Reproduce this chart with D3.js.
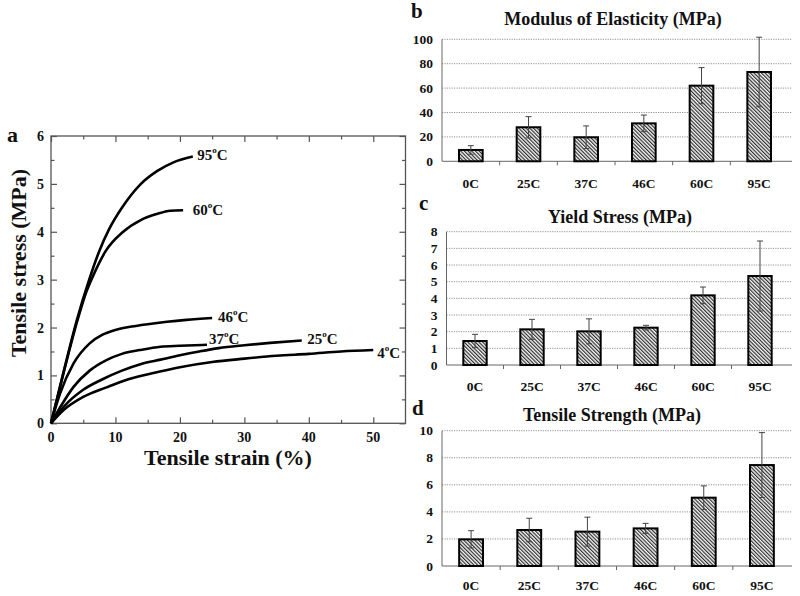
<!DOCTYPE html>
<html><head><meta charset="utf-8">
<script src="https://cdn.jsdelivr.net/npm/d3@7"></script>
<style>
body{margin:0;background:#fff;}
text{font-family:"Liberation Serif","Times New Roman",serif;font-weight:bold;fill:#111;}
</style></head>
<body><svg id="c" width="800" height="596"></svg>
<script>
// ---------- Panel a data: stress-strain curves [strain %, stress MPa] ----------
const temps = ["95", "60", "46", "37", "25", "4"];
const curve95 = [[0,0],[2,1.1],[4,2.15],[6,3.03],[7.5,3.6],[9,4.05],[11,4.5],[13.8,4.98],[16.5,5.27],[19,5.45],[22,5.57]];
const curve60 = [[0,0],[2,1.08],[4,2.1],[5.5,2.75],[6.6,3.1],[8.5,3.6],[11.2,4.0],[14,4.25],[16.4,4.37],[18.5,4.44],[20.5,4.45]];
const curve46 = [[0,0],[1.4,0.62],[3.5,1.25],[6,1.67],[8,1.85],[10,1.95],[12.5,2.02],[15,2.07],[18,2.12],[21,2.16],[25,2.2]];
const curve37 = [[0,0],[1.5,0.35],[3.5,0.76],[6,1.1],[8.6,1.32],[11,1.45],[13.8,1.53],[17,1.6],[20,1.62],[24.2,1.64]];
const curve25 = [[0,0],[2,0.35],[5,0.7],[8,0.92],[11,1.1],[14,1.24],[17,1.33],[20,1.42],[23,1.5],[26,1.57],[30,1.63],[34,1.68],[38.9,1.73]];
const curve4  = [[0,0],[2,0.28],[5,0.55],[8.6,0.75],[12,0.92],[16.9,1.08],[20,1.17],[25,1.28],[30,1.35],[35,1.41],[40,1.45],[45,1.5],[50,1.53]];
const curves = [curve95, curve60, curve46, curve37, curve25, curve4];
const labelStrain = [22.7, 22.0, 25.9, 24.5, 39.75, 50.6];
const labelStress = [5.61, 4.46, 2.22, 1.76, 1.76, 1.46];
const strainTicks = [0,10,20,30,40,50];
const stressTicks = [0,1,2,3,4,5,6];

// ---------- Bar panels ----------
const categories = ["0C","25C","37C","46C","60C","95C"];
const modulus    = [9.3, 27.9, 19.7, 31.1, 62.0, 73.2];
const modulusErr = [3.5, 8.7, 9.3, 6.8, 14.8, 28.5];
const modulusTicks = [0,20,40,60,80,100];
const yieldStress    = [1.44, 2.14, 2.02, 2.24, 4.18, 5.34];
const yieldStressErr = [0.4, 0.6, 0.75, 0.14, 0.5, 2.1];
const yieldTicks = [0,1,2,3,4,5,6,7,8];
const strength    = [1.97, 2.66, 2.54, 2.78, 5.05, 7.46];
const strengthErr = [0.64, 0.87, 1.07, 0.37, 0.87, 2.4];
const strengthTicks = [0,2,4,6,8,10];

const svg = d3.select("#c");
const defs = svg.append("defs");
const pat = defs.append("pattern").attr("id","hatch").attr("patternUnits","userSpaceOnUse")
  .attr("width",2.6).attr("height",2.6).attr("patternTransform","rotate(-45)");
pat.append("rect").attr("width",2.6).attr("height",2.6).attr("fill","#f4f4f4");
pat.append("line").attr("x1",0.6).attr("y1",0).attr("x2",0.6).attr("y2",2.6).attr("stroke","#222").attr("stroke-width",1.1);

// ===== Panel a =====
const ax = d3.scaleLinear().domain([0,55]).range([51,405.5]);
const ay = d3.scaleLinear().domain([0,6]).range([423.3,136]);
const ga = svg.append("g");
const frameCol = "#555";
ga.append("rect").attr("x",ax(0)).attr("y",ay(6)).attr("width",ax(55)-ax(0)).attr("height",ay(0)-ay(6))
  .attr("fill","none").attr("stroke",frameCol).attr("stroke-width",1.3);
function tickAxis(axisFn, scale, vals, size, pos, isX) {
  const a = axisFn(scale).tickValues(vals).tickSize(size).tickFormat("");
  const g = ga.append("g").attr("transform", isX ? `translate(0,${pos})` : `translate(${pos},0)`).call(a);
  g.select(".domain").remove();
  g.selectAll("line").attr("stroke",frameCol).attr("stroke-width",1.2);
}
const yMinor = d3.range(0.5,6,1), xMinor = d3.range(5,55,10);
tickAxis(d3.axisLeft, ay, stressTicks, -6, ax(0), false);
tickAxis(d3.axisLeft, ay, yMinor, -3.5, ax(0), false);
tickAxis(d3.axisRight, ay, stressTicks, -6, ax(55), false);
tickAxis(d3.axisRight, ay, yMinor, -3.5, ax(55), false);
tickAxis(d3.axisBottom, ax, strainTicks, -6, ay(0), true);
tickAxis(d3.axisBottom, ax, xMinor, -3.5, ay(0), true);
tickAxis(d3.axisTop, ax, strainTicks, -6, ay(6), true);
tickAxis(d3.axisTop, ax, xMinor, -3.5, ay(6), true);
ga.selectAll(".ytl").data(stressTicks).join("text").attr("class","ytl")
  .attr("x",44).attr("y",d=>ay(d)+5).attr("text-anchor","end").attr("font-size",14).text(d=>d);
ga.selectAll(".xtl").data(strainTicks).join("text").attr("class","xtl")
  .attr("x",d=>ax(d)).attr("y",442).attr("text-anchor","middle").attr("font-size",14).text(d=>d);
ga.append("text").attr("x",7).attr("y",142).attr("font-size",22).text("a");
ga.append("text").attr("transform","translate(26,263) rotate(-90)").attr("text-anchor","middle")
  .attr("font-size",22).text("Tensile stress (MPa)");
ga.append("text").attr("x",228).attr("y",465).attr("text-anchor","middle").attr("font-size",22).text("Tensile strain (%)");
const line = d3.line().x(d=>ax(d[0])).y(d=>ay(d[1])).curve(d3.curveMonotoneX);
ga.selectAll(".crv").data(curves).join("path").attr("class","crv").attr("d",line)
  .attr("fill","none").attr("stroke","#000").attr("stroke-width",2.6).attr("stroke-linejoin","round");
temps.forEach((t,i)=>{
  const tx = ga.append("text").attr("x",ax(labelStrain[i])).attr("y",ay(labelStress[i])+5).attr("font-size",15);
  tx.append("tspan").text(t);
  tx.append("tspan").attr("font-size",9).attr("dy",-7).text("o");
  tx.append("tspan").attr("dy",7).text("C");
});

// ===== Bar panels =====
function barPanel(o) {
  const g = svg.append("g");
  const x = d3.scaleBand().domain(categories).range([o.x0, o.x1]).padding(0);
  const y = d3.scaleLinear().domain([0, o.ticks[o.ticks.length-1]]).range([o.yb, o.yt]);
  g.selectAll(".gr").data(o.ticks.slice(1)).join("line")
    .attr("x1",o.x0).attr("x2",792).attr("y1",d=>y(d)).attr("y2",d=>y(d))
    .attr("stroke","#777").attr("stroke-width",0.8).attr("stroke-dasharray","1.2,1.2");
  g.append("line").attr("x1",o.x0).attr("x2",o.x0).attr("y1",y(0)).attr("y2",y(o.ticks[o.ticks.length-1]))
    .attr("stroke","#666").attr("stroke-width",1);
  g.append("line").attr("x1",o.x0).attr("x2",792).attr("y1",y(0)).attr("y2",y(0))
    .attr("stroke","#666").attr("stroke-width",1);
  g.selectAll(".xt").data(categories.slice(1)).join("line")
    .attr("x1",d=>x(d)).attr("x2",d=>x(d)).attr("y1",y(0)).attr("y2",y(0)+4).attr("stroke","#666");
  g.selectAll(".ytl").data(o.ticks).join("text")
    .attr("x",o.x0-9).attr("y",d=>y(d)+4.5).attr("text-anchor","end").attr("font-size",13.5).text(d=>d);
  g.selectAll(".xtl").data(categories).join("text")
    .attr("x",d=>x(d)+x.bandwidth()/2).attr("y",o.catY).attr("text-anchor","middle").attr("font-size",13.5).text(d=>d);
  const bw = x.bandwidth()*0.41;
  g.selectAll(".bar").data(o.vals).join("rect")
    .attr("x",(d,i)=>x(categories[i])+x.bandwidth()/2-bw/2).attr("width",bw)
    .attr("y",d=>y(d)).attr("height",d=>y(0)-y(d))
    .attr("fill","url(#hatch)").attr("stroke","#000").attr("stroke-width",2);
  const eg = g.selectAll(".err").data(o.vals).join("g");
  eg.append("line").attr("x1",(d,i)=>x(categories[i])+x.bandwidth()/2).attr("x2",(d,i)=>x(categories[i])+x.bandwidth()/2)
    .attr("y1",(d,i)=>y(d+o.errs[i])).attr("y2",(d,i)=>y(d-o.errs[i])).attr("stroke","#444").attr("stroke-width",1);
  [1,-1].forEach(s=>{
    eg.append("line").attr("x1",(d,i)=>x(categories[i])+x.bandwidth()/2-3).attr("x2",(d,i)=>x(categories[i])+x.bandwidth()/2+3)
      .attr("y1",(d,i)=>y(d+s*o.errs[i])).attr("y2",(d,i)=>y(d+s*o.errs[i])).attr("stroke","#444").attr("stroke-width",1);
  });
  g.append("text").attr("x",o.lx).attr("y",o.ly).attr("font-size",21).text(o.letter);
  g.append("text").attr("x",o.tx).attr("y",o.ty).attr("text-anchor","middle").attr("font-size",18).text(o.title);
}
barPanel({vals:modulus, errs:modulusErr, ticks:modulusTicks, x0:442, x1:788, yb:161.3, yt:39.3,
  catY:188, letter:"b", lx:411, ly:18, title:"Modulus of Elasticity (MPa)", tx:613, ty:25});
barPanel({vals:yieldStress, errs:yieldStressErr, ticks:yieldTicks, x0:446.5, x1:788.5, yb:365, yt:231.7,
  catY:391, letter:"c", lx:419, ly:210, title:"Yield Stress (MPa)", tx:620, ty:223});
barPanel({vals:strength, errs:strengthErr, ticks:strengthTicks, x0:442, x1:791, yb:566, yt:430.7,
  catY:590, letter:"d", lx:412, ly:415, title:"Tensile Strength (MPa)", tx:612, ty:421});
</script></body></html>
